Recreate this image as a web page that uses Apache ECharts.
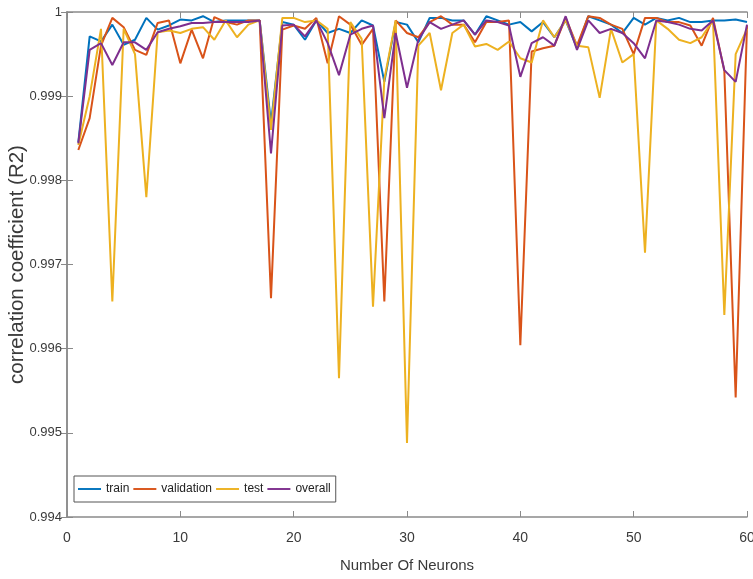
<!DOCTYPE html>
<html><head><meta charset="utf-8">
<script src="https://cdn.jsdelivr.net/npm/echarts@6/dist/echarts.min.js"></script>
<style>html,body{margin:0;padding:0;background:#fff}#c{width:753px;height:579px}</style>
</head><body><div id="c"></div>
<script>
const neurons = Array.from({length:60},(_,i)=>i+1);
const train = [0.99845,0.99971,0.99965,0.99985,0.99961,0.99967,0.99993,0.99979,0.99984,0.99991,
0.9999,0.99995,0.99988,0.9999,0.9999,0.9999,0.9999,0.99868,0.99988,0.99985,
0.99967,0.9999,0.99975,0.9998,0.99975,0.9999,0.99984,0.99917,0.99988,0.99985,
0.99964,0.99993,0.99993,0.9999,0.9999,0.99973,0.99995,0.9999,0.99985,0.99988,
0.99977,0.99988,0.9997,0.9999,0.99957,0.99995,0.9999,0.99985,0.99975,0.99993,
0.99985,0.99993,0.9999,0.99993,0.99988,0.99988,0.9999,0.9999,0.99991,0.99988];
const validation = [0.99836,0.99874,0.9996,0.99993,0.99982,0.99955,0.99949,0.99987,0.9999,0.99939,
0.99979,0.99945,0.99994,0.99988,0.99985,0.9999,0.9999,0.9966,0.99979,0.99984,
0.9998,0.99993,0.99939,0.99995,0.99985,0.99961,0.9998,0.99656,0.9999,0.99975,
0.9997,0.99988,0.99995,0.99985,0.99985,0.99964,0.99988,0.99988,0.9999,0.99604,
0.99953,0.99957,0.9996,0.99993,0.9996,0.99995,0.99993,0.99985,0.9998,0.9995,
0.99993,0.99993,0.99988,0.99988,0.99984,0.9996,0.99993,0.9993,0.99542,0.99984];
const test = [0.99842,0.9990,0.9998,0.99656,0.9998,0.9995,0.9978,0.99976,0.99978,0.99975,
0.9998,0.99982,0.99967,0.9999,0.9997,0.99985,0.9999,0.9986,0.99993,0.99993,
0.99988,0.9999,0.9998,0.99565,0.99988,0.99968,0.9965,0.9992,0.9999,0.99488,
0.9996,0.99975,0.99907,0.99975,0.99985,0.99959,0.99962,0.99955,0.99965,0.99945,
0.9994,0.9999,0.9997,0.9999,0.9996,0.99958,0.99898,0.9998,0.9994,0.9995,
0.99714,0.9999,0.9998,0.99967,0.99963,0.9997,0.9999,0.9964,0.9995,0.9998];
const overall = [0.99844,0.99955,0.99963,0.99937,0.99964,0.99964,0.99955,0.99976,0.9998,0.99983,
0.99987,0.99987,0.99988,0.99988,0.99988,0.99988,0.9999,0.99832,0.99984,0.99985,
0.99971,0.9999,0.99963,0.99925,0.99973,0.9998,0.99984,0.99874,0.99975,0.9991,
0.99967,0.99988,0.9998,0.99985,0.9999,0.99973,0.9999,0.99988,0.99984,0.99923,
0.99963,0.9997,0.9996,0.99995,0.99955,0.9999,0.99975,0.9998,0.99975,0.99963,
0.99945,0.9999,0.99988,0.99985,0.9998,0.99978,0.9999,0.99931,0.99917,0.99985];
const seriesNames = ['train','validation','test','overall'];
const seriesColors = ['#0072BD','#D95319','#EDB120','#7E2F8E'];
const xTicks = {min:0,max:60,interval:10};
const yTicks = {min:0.994,max:1,interval:0.001};

const allData = [train, validation, test, overall];
const font = "'Liberation Sans',Arial,sans-serif";
const axisGrey = '#8a8a8a';
const labelColor = '#3a3a3a';
const chart = echarts.init(document.getElementById('c'));
const yFmt = v => String(parseFloat(Number(v).toFixed(3)));
chart.setOption({
  backgroundColor:'#fff',
  animation:false,
  grid:{left:67,right:6,top:12,bottom:62,containLabel:false,outerBoundsMode:'none'},
  legend:{
    data:seriesNames, left:74, top:476, orient:'horizontal',
    icon:'path://M0,0H24V2H0Z',
    itemWidth:23, itemHeight:2, itemGap:4,
    padding:[7,5,7,4],
    borderColor:'#555', borderWidth:1, backgroundColor:'#fff', borderRadius:0,
    textStyle:{fontFamily:font,fontSize:12,color:'#222'}
  },
  xAxis:[{
    type:'value', min:xTicks.min, max:xTicks.max, interval:xTicks.interval,
    name:'Number Of Neurons', nameLocation:'middle', nameGap:41, nameMoveOverlap:false,
    nameTextStyle:{fontFamily:font,fontSize:15,color:labelColor},
    axisLine:{lineStyle:{color:axisGrey,width:1.5}},
    axisTick:{inside:true,length:6,lineStyle:{color:axisGrey}},
    axisLabel:{fontFamily:font,fontSize:14,color:labelColor,margin:14},
    splitLine:{show:false}
  },{
    type:'value', position:'top', min:xTicks.min, max:xTicks.max, interval:xTicks.interval,
    axisLine:{lineStyle:{color:axisGrey,width:1.5}},
    axisTick:{inside:true,length:6,lineStyle:{color:axisGrey}},
    axisLabel:{show:false}, splitLine:{show:false}
  }],
  yAxis:[{
    type:'value', min:yTicks.min, max:yTicks.max, interval:yTicks.interval,
    name:'correlation coefficient (R2)', nameLocation:'middle', nameGap:39, nameMoveOverlap:false,
    nameTextStyle:{fontFamily:font,fontSize:20.5,color:labelColor},
    axisLine:{show:true,lineStyle:{color:axisGrey,width:1.5}},
    axisTick:{show:true,inside:true,length:6,lineStyle:{color:axisGrey}},
    axisLabel:{fontFamily:font,fontSize:13,color:labelColor,margin:5,formatter:yFmt},
    splitLine:{show:false}
  },{
    type:'value', position:'right', min:yTicks.min, max:yTicks.max, interval:yTicks.interval,
    axisLine:{show:true,lineStyle:{color:axisGrey,width:1.5}},
    axisTick:{show:true,inside:true,length:6,lineStyle:{color:axisGrey}},
    axisLabel:{show:false}, splitLine:{show:false}
  }],
  series: seriesNames.map((n,i)=>({
    name:n, type:'line', xAxisIndex:0, yAxisIndex:0,
    data: neurons.map((x,j)=>[x, allData[i][j]]),
    symbol:'none', lineStyle:{color:seriesColors[i],width:2}, itemStyle:{color:seriesColors[i]},
    z:2+i
  }))
});
</script></body></html>
